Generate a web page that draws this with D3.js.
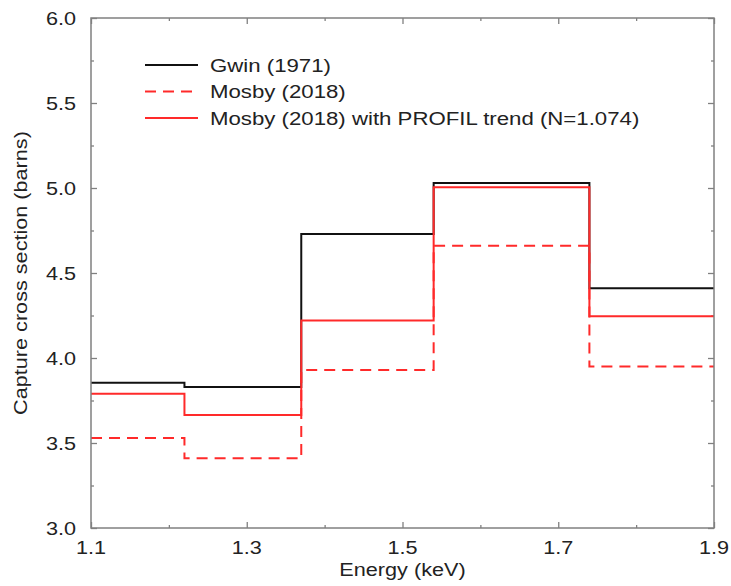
<!DOCTYPE html>
<html>
<head>
<meta charset="utf-8">
<script src="https://cdn.jsdelivr.net/npm/d3@7"></script>
<style>
  html, body { margin: 0; padding: 0; background: #fff; }
  svg { display: block; }
  text { font-family: "Liberation Sans", Arial, Helvetica, sans-serif; fill: #222; }
</style>
</head>
<body>
<svg id="chart" width="731" height="586"></svg>
<script>
// ---- data ----
const binEdges = [1.1, 1.22, 1.37, 1.54, 1.74, 1.9];
const gwin1971 = [3.855, 3.83, 4.73, 5.03, 4.41];
const mosby2018 = [3.53, 3.41, 3.93, 4.66, 3.95];
const mosbyProfil = [3.79, 3.665, 4.22, 5.005, 4.245];
const seriesNames = ["Gwin (1971)", "Mosby (2018)", "Mosby (2018) with PROFIL trend (N=1.074)"];
const xMajorTicks = [1.1, 1.3, 1.5, 1.7, 1.9];
const xMinorTicks = [1.2, 1.4, 1.6, 1.8];
const yMajorTicks = [3.0, 3.5, 4.0, 4.5, 5.0, 5.5, 6.0];
const yMinorTicks = [3.25, 3.75, 4.25, 4.75, 5.25, 5.75];
const xTitle = "Energy (keV)";
const yTitle = "Capture cross section (barns)";

// ---- layout ----
const svg = d3.select("#chart");
const m = { left: 91, top: 18, right: 17, bottom: 58 };
const W = 731, H = 586;
const pw = W - m.left - m.right, ph = H - m.top - m.bottom;
const SX = 1.17; // horizontal text stretch

const x = d3.scaleLinear().domain([1.1, 1.9]).range([m.left, m.left + pw]);
const y = d3.scaleLinear().domain([3.0, 6.0]).range([m.top + ph, m.top]);

function addText(g, txt, tx, ty, size, anchor, rot) {
  return g.append("text")
    .attr("transform", `translate(${tx},${ty})` + (rot ? ` rotate(${rot})` : "") + ` scale(${SX},1)`)
    .attr("text-anchor", anchor)
    .style("font-size", size + "px")
    .text(txt);
}

const frameColor = "#808080";

// axes (ticks inward)
function styleAxis(g) {
  g.select(".domain").remove();
  g.selectAll(".tick line").attr("stroke", frameColor).attr("stroke-width", 1.3);
  g.selectAll(".tick text").remove();
}
svg.append("g").attr("transform", `translate(0,${m.top + ph})`)
  .call(d3.axisBottom(x).tickValues(xMajorTicks).tickSize(-6)).call(styleAxis);
svg.append("g").attr("transform", `translate(0,${m.top + ph})`)
  .call(d3.axisBottom(x).tickValues(xMinorTicks).tickSize(-3)).call(styleAxis);
svg.append("g").attr("transform", `translate(0,${m.top})`)
  .call(d3.axisTop(x).tickValues(xMajorTicks).tickSize(-6)).call(styleAxis);
svg.append("g").attr("transform", `translate(0,${m.top})`)
  .call(d3.axisTop(x).tickValues(xMinorTicks).tickSize(-3)).call(styleAxis);
svg.append("g").attr("transform", `translate(${m.left},0)`)
  .call(d3.axisLeft(y).tickValues(yMajorTicks).tickSize(-6)).call(styleAxis);
svg.append("g").attr("transform", `translate(${m.left},0)`)
  .call(d3.axisLeft(y).tickValues(yMinorTicks).tickSize(-3)).call(styleAxis);
svg.append("g").attr("transform", `translate(${m.left + pw},0)`)
  .call(d3.axisRight(y).tickValues(yMajorTicks).tickSize(-6)).call(styleAxis);
svg.append("g").attr("transform", `translate(${m.left + pw},0)`)
  .call(d3.axisRight(y).tickValues(yMinorTicks).tickSize(-3)).call(styleAxis);

// tick labels
const labels = svg.append("g");
xMajorTicks.forEach(v => addText(labels, d3.format(".1f")(v), x(v), m.top + ph + 26, 18.5, "middle"));
yMajorTicks.forEach(v => addText(labels, d3.format(".1f")(v), 76, y(v) + 7, 18.5, "end"));

// axis titles
addText(labels, xTitle, x(1.5), 576, 18.5, "middle");
addText(labels, yTitle, 27, y(4.5), 18.5, "middle", -90);

// step lines
const line = d3.line().x(d => x(d[0])).y(d => y(d[1])).curve(d3.curveStepAfter);
function stepPoints(vals) {
  const pts = vals.map((v, i) => [binEdges[i], v]);
  pts.push([binEdges[binEdges.length - 1], vals[vals.length - 1]]);
  return pts;
}
const series = [
  { vals: gwin1971, color: "#111111", dash: null },
  { vals: mosby2018, color: "#ff2a2a", dash: "11,7" },
  { vals: mosbyProfil, color: "#ff2a2a", dash: null }
];
const plotG = svg.append("g");
series.forEach(s => {
  plotG.append("path")
    .attr("d", line(stepPoints(s.vals)))
    .attr("fill", "none")
    .attr("stroke", s.color)
    .attr("stroke-width", 2)
    .attr("stroke-dasharray", s.dash);
});

// frame
svg.append("rect")
  .attr("x", m.left).attr("y", m.top).attr("width", pw).attr("height", ph)
  .attr("fill", "none").attr("stroke", frameColor).attr("stroke-width", 1.5);

// legend
const lg = svg.append("g");
const rowY = [65, 91.5, 118];
series.forEach((s, i) => {
  lg.append("line").attr("x1", 145).attr("x2", 198).attr("y1", rowY[i]).attr("y2", rowY[i])
    .attr("stroke", s.color).attr("stroke-width", 2).attr("stroke-dasharray", s.dash);
  addText(lg, seriesNames[i], 210, rowY[i] + 6.5, 19, "start");
});
</script>
</body>
</html>
